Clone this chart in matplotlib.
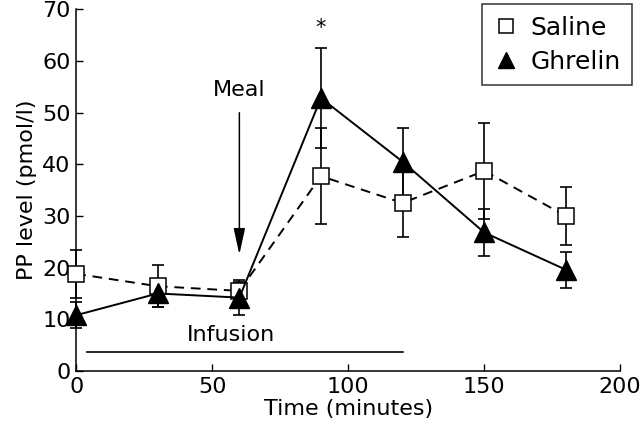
import numpy as np
import matplotlib
matplotlib.use("Agg")
import matplotlib.pyplot as plt

plt.rcParams['font.family'] = ['DejaVu Sans']

time = [0, 30, 60, 90, 120, 150, 180]
saline = [18.8, 16.4, 15.5, 37.7, 32.5, 38.7, 30.0]
saline_err = [4.7, 4.1, 1.8, 9.3, 6.6, 9.3, 5.6]
ghrelin = [10.8, 15.0, 14.2, 52.8, 40.5, 26.8, 19.6]
ghrelin_err = [2.5, 2.6, 3.4, 9.6, 6.6, 4.6, 3.5]

fig = plt.figure(figsize=(6.4, 4.37), dpi=100)
ax = fig.add_axes([0.119, 0.151, 0.85, 0.828])

for vals, errs in [(saline, saline_err), (ghrelin, ghrelin_err)]:
    eb = ax.errorbar(time, vals, yerr=errs, fmt='none', ecolor='black',
                     elinewidth=1.2, capsize=4, capthick=1.2, zorder=2)
    for art in eb.lines[1] + eb.lines[2]:
        art.set_clip_on(False)
ax.plot(time, saline, color='black', linestyle=(0, (5, 3.5)), linewidth=1.4,
        marker='s', markersize=12, markerfacecolor='white',
        markeredgecolor='black', markeredgewidth=1.1, label='Saline',
        zorder=3, clip_on=False)
ax.plot(time, ghrelin, color='black', linestyle='-', linewidth=1.4,
        marker='^', markersize=14, markerfacecolor='black',
        markeredgecolor='black', label='Ghrelin', zorder=4, clip_on=False)

# meal arrow and infusion bar
ax.annotate('', xy=(60, 22), xytext=(60, 50.5),
            arrowprops=dict(arrowstyle='-|>,head_length=1.6,head_width=0.35',
                            color='black', lw=1.1))
ax.text(60, 52.5, 'Meal', ha='center', va='bottom', fontsize=16)
ax.plot([4, 120], [3.7, 3.7], color='black', linewidth=1.2)
ax.text(57, 5.0, 'Infusion', ha='center', va='bottom', fontsize=16)
ax.text(90, 64.5, '*', ha='center', va='bottom', fontsize=15)

ax.set_xlim(0, 200)
ax.set_ylim(0, 70)
ax.set_xticks([0, 50, 100, 150, 200])
ax.set_yticks(range(0, 71, 10))
ax.tick_params(direction='in', length=5, width=1, labelsize=16, pad=4)
for s in ['top', 'right']:
    ax.spines[s].set_visible(False)
for s in ['left', 'bottom']:
    ax.spines[s].set_linewidth(1.1)
ax.set_xlabel('Time (minutes)', fontsize=16, labelpad=2)
ax.set_ylabel('PP level (pmol/l)', fontsize=16, labelpad=4)

leg = ax.legend(loc='upper right', bbox_to_anchor=(0.988, 0.99),
                bbox_transform=fig.transFigure, borderaxespad=0,
                fontsize=18, frameon=True, fancybox=False, edgecolor='black',
                handlelength=1.0, handletextpad=0.5, borderpad=0.45,
                labelspacing=0.4, markerscale=0.85)
leg.get_frame().set_linewidth(1.1)
for h in leg.legend_handles:
    h.set_linestyle('none')

fig.savefig('out.png', dpi=100)
